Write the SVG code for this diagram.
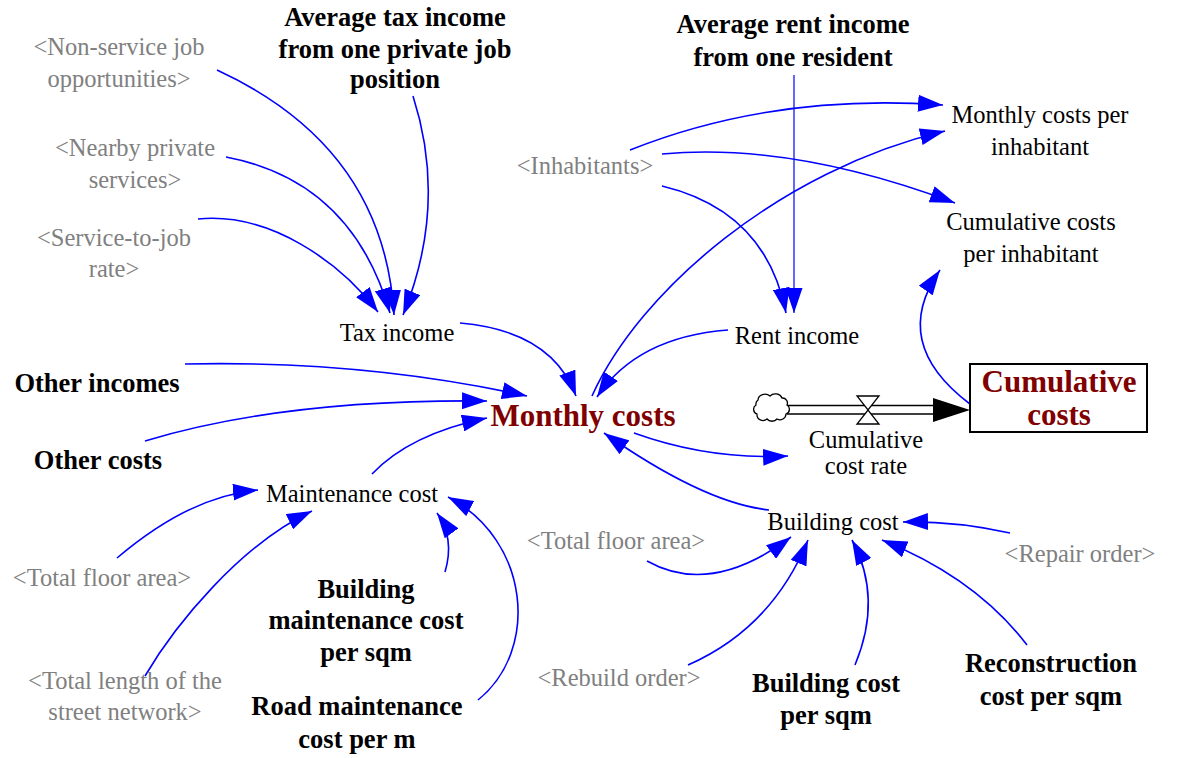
<svg xmlns="http://www.w3.org/2000/svg" width="1177" height="758" viewBox="0 0 1177 758">
<style>
text{font-family:"Liberation Serif","Times New Roman",serif;text-anchor:middle}
.r{font-size:24.5px;fill:#000}
.g{font-size:24.5px;fill:#808080}
.b{font-size:26.5px;font-weight:bold;fill:#000}
.m{font-size:31px;font-weight:bold;fill:#800000}
.c path{fill:none;stroke:#0000ff;stroke-width:1.6;marker-end:url(#ah)}
</style>
<defs>
<marker id="ah" markerUnits="userSpaceOnUse" markerWidth="26" markerHeight="17" refX="25" refY="8.5" orient="auto">
<path d="M0,0 L25,8.5 L0,17 z" fill="#0000ff"/>
</marker>
</defs>
<rect width="1177" height="758" fill="#fff"/>
<g id="connectors" class="c">
<path d="M217,70 Q384,147 394,315"/>
<path d="M226,157 Q352,181 390,313"/>
<path d="M198,219 C270,212 340,262 378,312"/>
<path d="M413,96 Q448,205 403,315"/>
<path d="M460,323 Q552,331 576,396"/>
<path d="M185,364 Q364,360 527,396"/>
<path d="M145,441 Q284,399 487,401"/>
<path d="M372,474 Q410,434 487,418"/>
<path d="M728,330 Q637,337 597,397"/>
<path d="M592,396 C640,290 780,170 945,131"/>
<path d="M630,150 Q773,93 943,105"/>
<path d="M662,154 Q792,142 955,203"/>
<path d="M662,186 Q766,211 786,313"/>
<path d="M794,75 L794,313" style="stroke-width:1.2"/>
<path d="M634,433 Q709,460 788,456"/>
<path d="M769,510 Q704,503 604,433"/>
<path d="M970,404 Q889,343 940,270"/>
<path d="M117,558 C150,530 200,495 258,490"/>
<path d="M145,676 C175,625 240,545 312,511"/>
<path d="M445,572 Q455,538 437,513"/>
<path d="M478,700 C540,650 530,540 448,497"/>
<path d="M647,561 Q711,597 791,537"/>
<path d="M688,665 Q772,628 808,540"/>
<path d="M855,665 Q883,598 852,540"/>
<path d="M1027,645 Q976,578 882,540"/>
<path d="M1010,533 Q955,521 903,522"/>
</g>
<g id="flow">
<path d="M787,405.5 L934,405.5 M787,414 L934,414" stroke="#000" stroke-width="1.6" fill="none"/>
<path d="M933,398 L970,410 L933,422 z" fill="#000"/>
<path d="M857,396 L879,396 L868,410 z M857,424 L879,424 L868,410 z" fill="#fff" stroke="#000" stroke-width="1.3"/>
<path d="M758,400 a7,6 0 0,1 12,-4 a7,6 0 0,1 12,2 a5,5 0 0,1 5,7 a5,5 0 0,1 -1,9 a6,6 0 0,1 -9,5 a6,5 0 0,1 -10,0 a6,6 0 0,1 -10,-5 a5,5 0 0,1 -1,-9 a5,5 0 0,1 2,-5 z" fill="#fff" stroke="#000" stroke-width="1.3"/>
</g>
<g id="n-nonservice"><text class="g" x="119" y="55">&lt;Non-service job</text><text class="g" x="119" y="87">opportunities&gt;</text></g>
<g id="n-avgtax"><text class="b" x="395" y="26">Average tax income</text><text class="b" x="395" y="58">from one private job</text><text class="b" x="395" y="88">position</text></g>
<g id="n-nearby"><text class="g" x="135" y="156">&lt;Nearby private</text><text class="g" x="135" y="188">services&gt;</text></g>
<g id="n-service"><text class="g" x="114" y="246">&lt;Service-to-job</text><text class="g" x="114" y="277">rate&gt;</text></g>
<g id="n-taxincome"><text class="r" x="397" y="341">Tax income</text></g>
<g id="n-avgrent"><text class="b" x="793" y="33">Average rent income</text><text class="b" x="793" y="66">from one resident</text></g>
<g id="n-mcpi"><text class="r" x="1040" y="123">Monthly costs per</text><text class="r" x="1040" y="155">inhabitant</text></g>
<g id="n-inhabitants"><text class="g" x="585" y="174">&lt;Inhabitants&gt;</text></g>
<g id="n-ccpi"><text class="r" x="1031" y="230">Cumulative costs</text><text class="r" x="1031" y="262">per inhabitant</text></g>
<g id="n-rentincome"><text class="r" x="797" y="344">Rent income</text></g>
<g id="n-otherincomes"><text class="b" x="97" y="392">Other incomes</text></g>
<g id="n-monthlycosts"><text class="m" x="583" y="426">Monthly costs</text></g>
<g id="n-cumcosts"><rect x="970" y="364" width="177" height="68" fill="#fff" stroke="#000" stroke-width="2"/><text class="m" x="1059" y="392">Cumulative</text><text class="m" x="1059" y="425">costs</text></g>
<g id="n-othercosts"><text class="b" x="98" y="469">Other costs</text></g>
<g id="n-rate"><text class="r" x="866" y="448">Cumulative</text><text class="r" x="866" y="474">cost rate</text></g>
<g id="n-maint"><text class="r" x="352" y="502">Maintenance cost</text></g>
<g id="n-buildingcost"><text class="r" x="833" y="530">Building cost</text></g>
<g id="n-tfa2"><text class="g" x="616" y="549">&lt;Total floor area&gt;</text></g>
<g id="n-repair"><text class="g" x="1080" y="562">&lt;Repair order&gt;</text></g>
<g id="n-tfa1"><text class="g" x="102" y="586">&lt;Total floor area&gt;</text></g>
<g id="n-bmcps"><text class="b" x="366" y="598">Building</text><text class="b" x="366" y="629">maintenance cost</text><text class="b" x="366" y="661">per sqm</text></g>
<g id="n-tlsn"><text class="g" x="125" y="689">&lt;Total length of the</text><text class="g" x="125" y="720">street network&gt;</text></g>
<g id="n-rebuild"><text class="g" x="619" y="686">&lt;Rebuild order&gt;</text></g>
<g id="n-bcps"><text class="b" x="826" y="692">Building cost</text><text class="b" x="826" y="724">per sqm</text></g>
<g id="n-rcps"><text class="b" x="1051" y="672">Reconstruction</text><text class="b" x="1051" y="705">cost per sqm</text></g>
<g id="n-rmcpm"><text class="b" x="357" y="715">Road maintenance</text><text class="b" x="357" y="748">cost per m</text></g>
</svg>
